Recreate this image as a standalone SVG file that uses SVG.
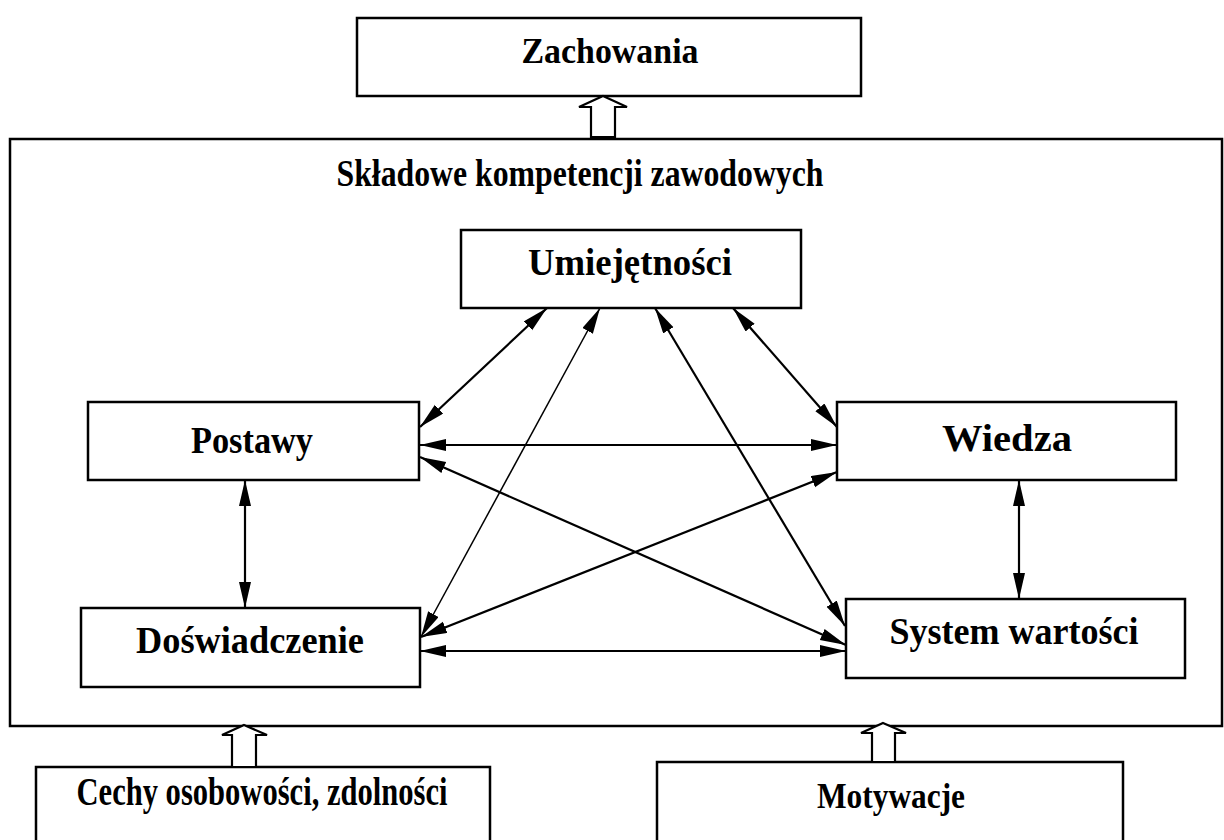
<svg xmlns="http://www.w3.org/2000/svg" width="1224" height="840" viewBox="0 0 1224 840">
  <defs>
    <style>
      .box { fill: #fff; stroke: #000; stroke-width: 2.5; }
      .frame { fill: none; stroke: #000; stroke-width: 2.5; }
      .lbl { font-family: "Liberation Serif", "Times New Roman", serif; font-weight: bold; fill: #000; text-anchor: middle; }
      .link { stroke: #000; stroke-width: 2.2; fill: none; marker-start: url(#head); marker-end: url(#head); }
      .thin { stroke-width: 1.5; }
      .hollow { fill: #fff; stroke: #000; stroke-width: 2.2; stroke-linejoin: miter; }
    </style>
    <marker id="head" markerUnits="userSpaceOnUse" markerWidth="28" markerHeight="14" refX="26" refY="6" orient="auto-start-reverse">
      <path d="M0,0 L26,6 L0,12 Z" fill="#000"/>
    </marker>
  </defs>
  <rect width="1224" height="840" fill="#fff"/>

  <!-- outer frame: components of professional competence -->
  <g id="skladowe">
    <rect class="frame" x="10" y="139" width="1212" height="587"/>
    <text class="lbl" x="580" y="186" font-size="38" textLength="487" lengthAdjust="spacingAndGlyphs">Składowe kompetencji zawodowych</text>
  </g>

  <g id="zachowania">
    <rect class="box" x="357" y="18" width="504" height="78"/>
    <text class="lbl" x="610" y="63" font-size="36" textLength="177" lengthAdjust="spacingAndGlyphs">Zachowania</text>
  </g>

  <g id="umiejetnosci">
    <rect class="box" x="461" y="230" width="340" height="78"/>
    <text class="lbl" x="630" y="275" font-size="37" textLength="204" lengthAdjust="spacingAndGlyphs">Umiejętności</text>
  </g>

  <g id="postawy">
    <rect class="box" x="88" y="402" width="331" height="78"/>
    <text class="lbl" x="252" y="453" font-size="37" textLength="122" lengthAdjust="spacingAndGlyphs">Postawy</text>
  </g>

  <g id="wiedza">
    <rect class="box" x="837" y="402" width="339" height="78"/>
    <text class="lbl" x="1007" y="451" font-size="37" textLength="130" lengthAdjust="spacingAndGlyphs">Wiedza</text>
  </g>

  <g id="doswiadczenie">
    <rect class="box" x="81" y="608" width="339" height="79"/>
    <text class="lbl" x="250" y="653" font-size="37" textLength="228" lengthAdjust="spacingAndGlyphs">Doświadczenie</text>
  </g>

  <g id="system-wartosci">
    <rect class="box" x="846" y="599" width="339" height="79"/>
    <text class="lbl" x="1014" y="644" font-size="37" textLength="249" lengthAdjust="spacingAndGlyphs">System wartości</text>
  </g>

  <g id="cechy">
    <rect class="box" x="36" y="767" width="454" height="100"/>
    <text class="lbl" x="262" y="805" font-size="39" textLength="371" lengthAdjust="spacingAndGlyphs">Cechy osobowości, zdolności</text>
  </g>

  <g id="motywacje">
    <rect class="box" x="657" y="762" width="466" height="100"/>
    <text class="lbl" x="891" y="808" font-size="36" textLength="148" lengthAdjust="spacingAndGlyphs">Motywacje</text>
  </g>

  <!-- connectors -->
  <g id="connectors">
    <polygon class="hollow" points="603,96 627,107 615,107 615,137 591,137 591,107 579,107"/>
    <polygon class="hollow" points="244,725 267,735 256,735 256,767 232,767 232,735 222,735"/>
    <polygon class="hollow" points="883,723 906,733 895,733 895,762 872,762 872,733 861,733"/>

    <line class="link" x1="547" y1="308" x2="420" y2="427"/>
    <line class="link thin" x1="600" y1="308" x2="421" y2="637"/>
    <line class="link" x1="655" y1="308" x2="845" y2="626"/>
    <line class="link" x1="733" y1="308" x2="837" y2="427"/>
    <line class="link" x1="420" y1="445" x2="837" y2="445"/>
    <line class="link" x1="420" y1="457" x2="846" y2="645"/>
    <line class="link" x1="837" y1="472" x2="421" y2="637"/>
    <line class="link" x1="420" y1="651" x2="846" y2="651"/>
    <line class="link" x1="245" y1="480" x2="245" y2="608"/>
    <line class="link" x1="1019" y1="480" x2="1019" y2="599"/>
  </g>
</svg>
